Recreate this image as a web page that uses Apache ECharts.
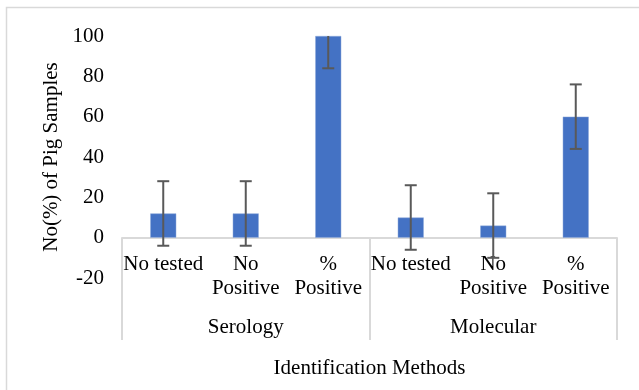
<!DOCTYPE html>
<html>
<head>
<meta charset="utf-8">
<script src="https://cdn.jsdelivr.net/npm/echarts@6/dist/echarts.min.js"></script>
<style>
  html, body { margin: 0; padding: 0; background: #fff; }
  #chart { width: 639px; height: 390px; }
</style>
</head>
<body>
<div id="chart"></div>
<script>
const categories = ["No tested", "No\nPositive", "%\nPositive", "No tested", "No\nPositive", "%\nPositive"];
const groups = ["Serology", "Molecular"];
const values = [12, 12, 100, 10, 6, 60];
const errors = [16, 16, 16, 16, 16, 16];
const yTicks = { min: -20, max: 100, interval: 20 };

const font = "'Liberation Serif', 'Times New Roman', serif";
const chart = echarts.init(document.getElementById("chart"));

const errorData = values.map((v, i) => [i, v - errors[i], v + errors[i]]);

const option = {
  backgroundColor: "#ffffff",
  animation: false,
  graphic: [
    {
      type: "rect",
      shape: { x: 6.5, y: 7.5, width: 660, height: 400 },
      style: { fill: "none", stroke: "#d9d9d9", lineWidth: 1.5 },
      silent: true,
    },
  ],
  grid: { left: 122, right: 22, top: 36, bottom: 112 },
  xAxis: [
    {
      type: "category",
      data: categories,
      position: "bottom",
      offset: -40, // axis sits on the zero line (-20..0 is 40px)
      axisLine: { onZero: false, lineStyle: { color: "#d9d9d9", width: 2 } },
      axisTick: { show: false },
      axisLabel: {
        interval: 0,
        margin: 14,
        fontFamily: font,
        fontSize: 21,
        lineHeight: 24,
        color: "#000",
      },
    },
    {
      type: "category",
      data: groups,
      position: "bottom",
      offset: -40,
      axisLine: { show: false, onZero: false },
      axisTick: {
        show: true,
        interval: 0,
        length: 102,
        lineStyle: { color: "#d9d9d9", width: 2 },
      },
      axisLabel: {
        interval: 0,
        margin: 79,
        fontFamily: font,
        fontSize: 21,
        color: "#000",
      },
      name: "Identification Methods",
      nameLocation: "middle",
      nameGap: 120,
      nameTextStyle: { fontFamily: font, fontSize: 21, color: "#000" },
    },
  ],
  yAxis: {
    type: "value",
    min: yTicks.min,
    max: yTicks.max,
    interval: yTicks.interval,
    axisLine: { show: false },
    axisTick: { show: false },
    splitLine: { show: false },
    axisLabel: { margin: 18, fontFamily: font, fontSize: 21, color: "#000" },
    name: "No(%) of Pig Samples",
    nameLocation: "middle",
    nameGap: 56,
    nameRotate: 90,
    nameTextStyle: { fontFamily: font, fontSize: 21, color: "#000" },
  },
  series: [
    {
      type: "bar",
      data: values,
      barWidth: 26,
      itemStyle: { color: "#4472c4", borderColor: "#8eaadb", borderWidth: 0.5 },
    },
    {
      type: "custom",
      data: errorData,
      clip: true,
      z: 10,
      renderItem: (params, api) => {
        const x = api.value(0);
        const lo = api.coord([x, api.value(1)]);
        const hi = api.coord([x, api.value(2)]);
        const cap = 6;
        const style = { stroke: "#595959", lineWidth: 2 };
        return {
          type: "group",
          children: [
            { type: "line", shape: { x1: lo[0], y1: lo[1], x2: hi[0], y2: hi[1] }, style },
            { type: "line", shape: { x1: lo[0] - cap, y1: lo[1], x2: lo[0] + cap, y2: lo[1] }, style },
            { type: "line", shape: { x1: hi[0] - cap, y1: hi[1], x2: hi[0] + cap, y2: hi[1] }, style },
          ],
        };
      },
    },
  ],
};

chart.setOption(option);
</script>
</body>
</html>
